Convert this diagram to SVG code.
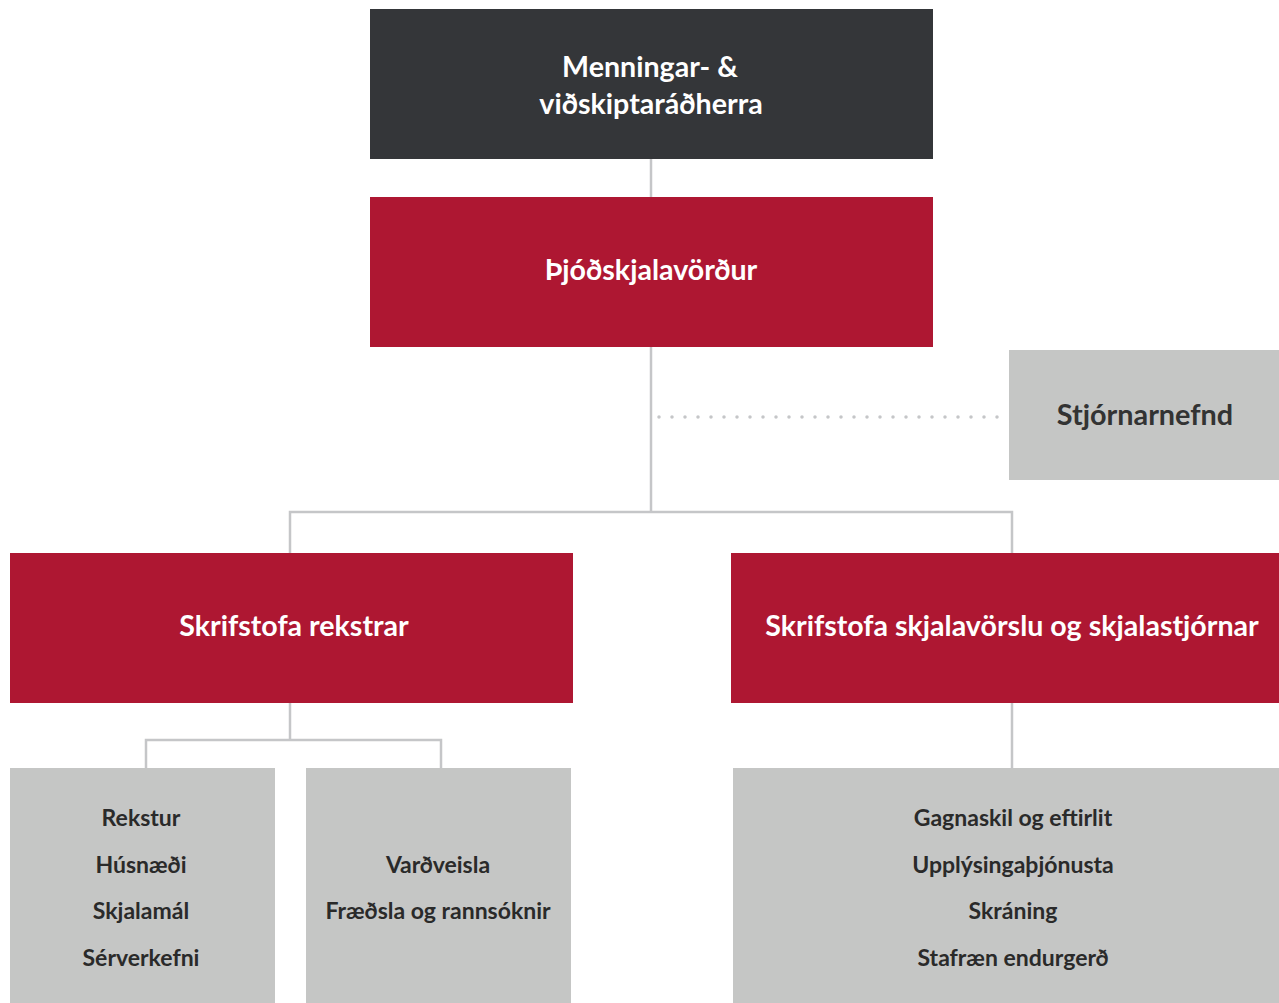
<svg xmlns="http://www.w3.org/2000/svg" width="1279" height="1003" viewBox="0 0 1279 1003">
<style>
.dark{fill:#343639}
.red{fill:#ae1732}
.grey{fill:#c5c6c5}
.t{font-family:Lato,"Open Sans","Liberation Sans",sans-serif;font-weight:700;text-anchor:middle}
.tw{fill:#ffffff;font-size:28.6px}
.tg{fill:#333333;font-size:28.8px}
.ts{fill:#2a2a2a;font-size:23px}
.ln{stroke:#c5c6c8;stroke-width:2.5;fill:none}
.dot{stroke:#c5c6c8;stroke-width:3.5;stroke-linecap:round;stroke-dasharray:0 13;fill:none}
</style>
<rect width="1279" height="1003" fill="#ffffff"/>
<g id="connectors">
<line class="ln" x1="651" y1="159" x2="651" y2="197"/>
<line class="ln" x1="651" y1="347" x2="651" y2="512"/>
<path class="ln" d="M290 553 V512 H1012 V553"/>
<path class="dot" d="M659 417 H1005"/>
<line class="ln" x1="290" y1="703" x2="290" y2="740"/>
<path class="ln" d="M146 768 V740 H441 V768"/>
<line class="ln" x1="1012" y1="703" x2="1012" y2="768"/>
</g>
<g id="minister">
<rect class="dark" x="370" y="9" width="563" height="150"/>
<text class="t tw" x="650" y="77">Menningar- &amp;</text>
<text class="t tw" x="651" y="114">viðskiptaráðherra</text>
</g>
<g id="archivist">
<rect class="red" x="370" y="197" width="563" height="150"/>
<text class="t tw" x="651" y="280">Þjóðskjalavörður</text>
</g>
<g id="board">
<rect class="grey" x="1009" y="350" width="270" height="130"/>
<text class="t tg" x="1145" y="425">Stjórnarnefnd</text>
</g>
<g id="office-operations">
<rect class="red" x="10" y="553" width="563" height="150"/>
<text class="t tw" x="294" y="636">Skrifstofa rekstrar</text>
</g>
<g id="office-records">
<rect class="red" x="731" y="553" width="548" height="150"/>
<text class="t tw" x="1012" y="636">Skrifstofa skjalavörslu og skjalastjórnar</text>
</g>
<g id="ops-list">
<rect class="grey" x="10" y="768" width="265" height="235"/>
<text class="t ts" x="141" y="826">Rekstur</text>
<text class="t ts" x="141" y="873">Húsnæði</text>
<text class="t ts" x="141" y="919">Skjalamál</text>
<text class="t ts" x="141" y="966">Sérverkefni</text>
</g>
<g id="preservation-list">
<rect class="grey" x="306" y="768" width="265" height="235"/>
<text class="t ts" x="438" y="873">Varðveisla</text>
<text class="t ts" x="438" y="919">Fræðsla og rannsóknir</text>
</g>
<g id="records-list">
<rect class="grey" x="733" y="768" width="546" height="235"/>
<text class="t ts" x="1013" y="826">Gagnaskil og eftirlit</text>
<text class="t ts" x="1013" y="873">Upplýsingaþjónusta</text>
<text class="t ts" x="1013" y="919">Skráning</text>
<text class="t ts" x="1013" y="966">Stafræn endurgerð</text>
</g>
</svg>
